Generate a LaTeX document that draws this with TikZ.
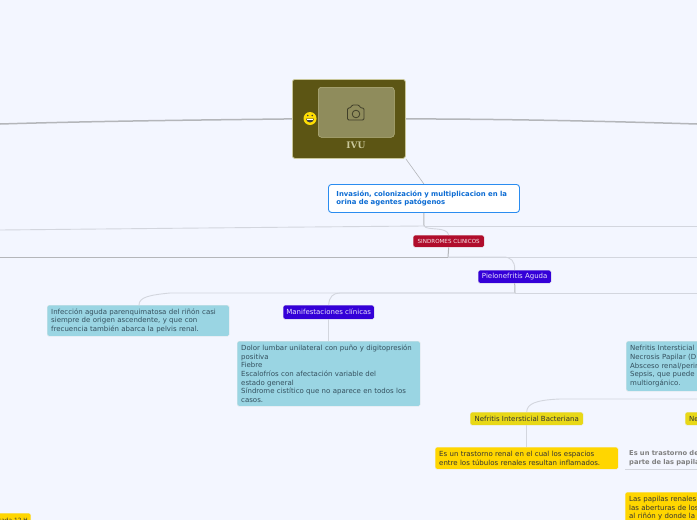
\documentclass[tikz,border=0pt]{standalone}
\usepackage{fontspec}
\setmainfont{DejaVu Sans}
\newfontfamily\rootfont{DejaVu Serif}
\usepackage{xcolor}
\definecolor{pagebg}{HTML}{F3F6FF}
\definecolor{olivebox}{HTML}{5C5514}
\definecolor{oliveedge}{HTML}{C9C79A}
\definecolor{photobox}{HTML}{8F8C5C}
\definecolor{linkdark}{HTML}{B4B6BA}
\definecolor{linklight}{HTML}{D3D6DE}
\definecolor{bluetext}{HTML}{0B6BD3}
\definecolor{blueedge}{HTML}{2A8CF0}
\definecolor{redbox}{HTML}{B00D2C}
\definecolor{violetbox}{HTML}{3400D8}
\definecolor{cyanbox}{HTML}{9AD5E3}
\definecolor{cyantext}{HTML}{34505E}
\definecolor{limebox}{HTML}{E8D817}
\definecolor{goldbox}{HTML}{FFD600}
\tikzset{
box/.style={anchor=north west,rounded corners=1.5pt,inner xsep=4pt,inner ysep=0pt,align=left,
  font=\fontsize{7}{8.6}\selectfont},
cyanitem/.style={box,fill=cyanbox,text=cyantext,draw=black!8},
golditem/.style={box,fill=goldbox,text=black!80,draw=black!6},
limeitem/.style={box,fill=limebox,text=black!80,draw=black!8,align=center},
violetitem/.style={box,fill=violetbox,text=white!88!violetbox,draw=black!8,align=center},
link/.style={linklight,line width=0.9pt},
thicklink/.style={linkdark,line width=1.5pt}
}
\begin{document}
\begin{tikzpicture}[x=1pt,y=-1pt]
\useasboundingbox(0,0)rectangle(697,520);
\clip(0,0)rectangle(697,520);
\fill[pagebg](0,0)rectangle(697,520);
\coordinate(leftend)at(0,124);
\coordinate(rightend)at(697,124);
\coordinate(busA)at(424,226);
\coordinate(busAleft)at(0,230);
\coordinate(busAright)at(697,226);
\coordinate(busB)at(448,257);
\coordinate(busBleft)at(0,257);
\coordinate(busBright)at(697,257);
\coordinate(busC)at(515,293);
\coordinate(busCright)at(697,293);
\coordinate(busD)at(697,399);
\node[anchor=north west,minimum width=113pt,minimum height=79pt,inner sep=0pt,rounded corners=2.5pt,fill=olivebox,draw=oliveedge,line width=0.8pt](root)at(292,79){};
\node[anchor=north west,minimum width=76pt,minimum height=50pt,inner sep=0pt,rounded corners=3pt,fill=photobox,draw=oliveedge!70!photobox,line width=0.5pt](photo)at(318,87){};
\node[font=\rootfont\bfseries\fontsize{9}{10}\selectfont,text=oliveedge](rootlabel)at(356,145){IVU};
\node[box,minimum width=191pt,minimum height=28pt,text width=175pt,inner xsep=8pt,fill=white,draw=blueedge,line width=0.9pt,rounded corners=3pt,text=bluetext,font=\bfseries\fontsize{6.9}{8.8}\selectfont](invasion)at(328,184){Invasión, colonización y multiplicacion en la\\orina de agentes patógenos};
\node[box,minimum width=71pt,minimum height=12pt,fill=redbox,text=white!90!redbox,draw=black!8,inner xsep=0pt,align=center,font=\fontsize{5.6}{7}\selectfont](sindromes)at(413,235){SINDROMES CLINICOS};
\node[violetitem,minimum width=73pt,minimum height=13pt,inner xsep=0pt](pielo)at(478,270){Pielonefritis Aguda};
\node[cyanitem,minimum width=182pt,minimum height=31pt,text width=174pt](infeccion)at(47,305){Infección aguda parenquimatosa del riñón casi\\siempre de origen ascendente, y que con\\frecuencia también abarca la pelvis renal.};
\node[violetitem,minimum width=91pt,minimum height=14pt,inner xsep=0pt](manifest)at(283,305){Manifestaciones clínicas};
\node[cyanitem,minimum width=183pt,minimum height=65pt,text width=175pt](dolor)at(237,341){Dolor lumbar unilateral con puño y digitopresión\\positiva\\Fiebre\\Escalofríos con afectación variable del\\estado general\\Síndrome cistítico que no aparece en todos los\\casos.};
\node[cyanitem,minimum width=174pt,minimum height=50pt,text width=166pt](formas)at(626,341){Nefritis Intersticial\\Necrosis Papilar (D\\Absceso renal/perir\\Sepsis, que puede\\multiorgánico.};
\node[limeitem,minimum width=113pt,minimum height=13pt,inner xsep=0pt](bacteriana)at(470,412){Nefritis Intersticial Bacteriana};
\node[limeitem,minimum width=113pt,minimum height=13pt,text width=105pt,align=left](necrosis)at(685,412){Ne};
\node[golditem,minimum width=183pt,minimum height=22pt,text width=175pt](trastorno)at(435,447){Es un trastorno renal en el cual los espacios\\entre los túbulos renales resultan inflamados.};
\node[box,minimum width=175pt,minimum height=22pt,text width=167pt,text=black!50,font=\bfseries\fontsize{6.7}{8.6}\selectfont](papilar)at(625,447){Es un trastorno de\\parte de las papilas};
\draw[linklight,line width=0.7pt](papilar.south west)--(papilar.south east);
\node[golditem,minimum width=175pt,minimum height=32pt,text width=167pt](papilas)at(625,492){Las papilas renales\\las aberturas de los\\al riñón y donde la};
\node[golditem,anchor=north east,minimum width=50pt,minimum height=15pt,inner xsep=3pt,text width=44pt,align=right,font=\fontsize{5.8}{7}\selectfont](dosis)at(31,513){cada 12 H};
% lineas
\draw[thicklink](leftend)..controls(100,121)and(200,120)..(root.west);
\draw[thicklink](root.east)..controls(500,119)and(600,121)..(rightend);
\draw[linkdark,line width=0.6pt](root.south east)--(invasion.north);
\draw[linkdark,line width=1pt](invasion.south)--(busA);
\draw[link](busA)..controls(300,227)and(100,229)..(busAleft);
\draw[link](busA)--(busAright);
\draw[link](busA)..controls(427,231)and(447,226)..(sindromes.north);
\draw[linkdark,line width=1pt](sindromes.south)--(busB);
\draw[linkdark,line width=1pt](busB)--(busBleft);
\draw[link](busB)--(busBright);
\draw[link](busB)--(503,257)..controls(511,257)and(515,261)..(pielo.north);
\draw[linkdark,line width=1pt](pielo.south)--(busC);
\draw[link](busC)--(busCright);
\draw[link](busC)--(340,293)..controls(333,293)and(329,297)..(manifest.north);
\draw[link](busC)--(170,293)..controls(150,295)and(139,297)..(139,305);
\draw[link](manifest.south)--(dolor.north);
\draw[link](busD)--(560,399)..controls(535,400)and(527,404)..(bacteriana.north);
\draw[link](bacteriana.south)--(trastorno.north-|bacteriana.south);
% camara
\draw[rounded corners=1.2pt,draw=black!55!photobox,line width=0.8pt](347.5,108)--(350.5,108)--(352,105)--(359,105)--(360.5,108)--(364,108)--(364,120)--(347.5,120)--cycle;
\draw[draw=black!55!photobox,line width=0.8pt](356,114)circle(3.8pt);
% emoji
\fill[yellow!80!orange](310,118.5)circle(6.5pt);
\fill[black!75](306,118.5)arc[start angle=180,end angle=360,radius=4pt]--cycle;
\fill[white](306.8,118.7)rectangle(313.2,120);
\fill[black!75](307.8,115.5)circle(0.9pt)(312.2,115.5)circle(0.9pt);
\end{tikzpicture}
\end{document}
